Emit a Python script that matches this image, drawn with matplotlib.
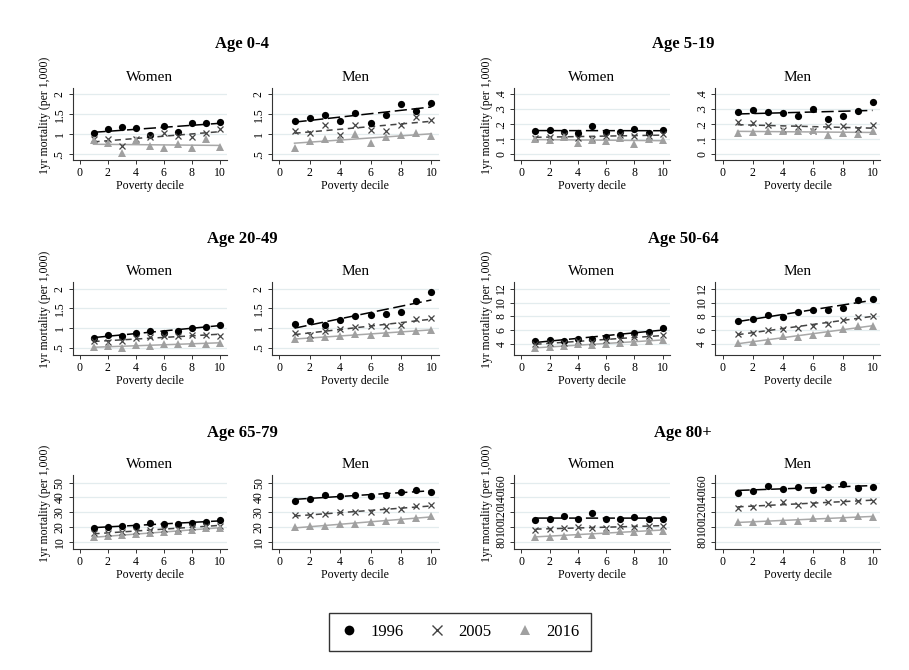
import numpy as np
import matplotlib
matplotlib.use("Agg")
import matplotlib.pyplot as plt
from matplotlib.lines import Line2D

plt.rcParams['font.family'] = ['Liberation Serif', 'DejaVu Serif']

deciles = [1, 2, 3, 4, 5, 6, 7, 8, 9, 10]
years = ["1996", "2005", "2016"]
age_groups = ["Age 0-4", "Age 5-19", "Age 20-49", "Age 50-64", "Age 65-79", "Age 80+"]
sexes = ["Women", "Men"]

# Age 0-4
w04_1996 = [1.02, 1.13, 1.18, 1.16, 0.97, 1.21, 1.05, 1.29, 1.29, 1.30]
w04_2005 = [0.89, 0.88, 0.71, 0.88, 0.94, 1.02, 0.95, 0.94, 1.03, 1.13]
w04_2016 = [0.85, 0.79, 0.53, 0.85, 0.71, 0.65, 0.76, 0.67, 0.88, 0.68]
m04_1996 = [1.33, 1.40, 1.47, 1.32, 1.52, 1.28, 1.48, 1.74, 1.58, 1.78]
m04_2005 = [1.08, 1.03, 1.22, 0.98, 1.23, 1.11, 1.09, 1.22, 1.42, 1.36]
m04_2016 = [0.67, 0.84, 0.88, 0.87, 1.01, 0.79, 0.94, 0.97, 1.03, 0.95]
# Age 5-19
w519_1996 = [0.156, 0.164, 0.147, 0.142, 0.187, 0.151, 0.151, 0.169, 0.142, 0.160]
w519_2005 = [0.111, 0.118, 0.129, 0.111, 0.104, 0.122, 0.129, 0.120, 0.120, 0.136]
w519_2016 = [0.100, 0.096, 0.113, 0.078, 0.093, 0.087, 0.107, 0.067, 0.102, 0.096]
m519_1996 = [0.278, 0.291, 0.278, 0.271, 0.253, 0.298, 0.233, 0.253, 0.289, 0.349]
m519_2005 = [0.213, 0.207, 0.196, 0.162, 0.178, 0.153, 0.189, 0.187, 0.171, 0.193]
m519_2016 = [0.144, 0.151, 0.156, 0.156, 0.156, 0.158, 0.129, 0.144, 0.136, 0.156]
# Age 20-49
w2049_1996 = [0.75, 0.81, 0.79, 0.88, 0.92, 0.88, 0.92, 1.01, 1.03, 1.07]
w2049_2005 = [0.66, 0.63, 0.67, 0.74, 0.76, 0.80, 0.79, 0.81, 0.81, 0.80]
w2049_2016 = [0.51, 0.53, 0.50, 0.56, 0.55, 0.58, 0.58, 0.62, 0.60, 0.61]
m2049_1996 = [1.09, 1.17, 1.08, 1.19, 1.31, 1.33, 1.35, 1.41, 1.69, 1.91]
m2049_2005 = [0.86, 0.83, 0.92, 0.98, 1.03, 1.05, 1.05, 1.07, 1.22, 1.25]
m2049_2016 = [0.71, 0.75, 0.77, 0.80, 0.84, 0.81, 0.87, 0.92, 0.92, 0.95]
# Age 50-64
w5064_1996 = [4.48, 4.67, 4.43, 4.81, 4.77, 5.10, 5.39, 5.67, 5.82, 6.30]
w5064_2005 = [4.05, 4.24, 4.24, 4.43, 4.38, 4.57, 4.81, 5.00, 5.20, 5.29]
w5064_2016 = [3.43, 3.57, 3.76, 4.00, 3.95, 4.10, 4.24, 4.33, 4.50, 4.60]
m5064_1996 = [7.35, 7.68, 8.16, 7.97, 8.59, 8.98, 8.98, 9.26, 10.32, 10.56]
m5064_2005 = [5.53, 5.67, 6.06, 6.15, 6.39, 6.68, 6.92, 7.49, 7.92, 8.07]
m5064_2016 = [4.19, 4.33, 4.53, 5.20, 5.10, 5.29, 5.58, 6.15, 6.58, 6.68]
# Age 65-79
w6579_1996 = [19.4, 20.1, 21.0, 20.8, 22.4, 21.7, 21.9, 22.8, 23.7, 24.6]
w6579_2005 = [15.6, 15.8, 16.7, 17.2, 17.9, 18.5, 18.8, 20.1, 20.6, 21.0]
w6579_2016 = [13.4, 13.6, 14.3, 15.2, 15.8, 16.5, 17.0, 18.1, 19.2, 19.4]
m6579_1996 = [37.6, 39.2, 41.7, 40.8, 41.9, 41.2, 41.5, 43.7, 44.8, 43.9]
m6579_2005 = [27.8, 28.2, 29.1, 30.2, 30.2, 30.2, 31.3, 32.2, 34.3, 34.9]
m6579_2016 = [19.8, 20.6, 20.8, 21.7, 22.1, 23.3, 24.2, 24.8, 26.2, 27.5]
# Age 80+
w80_1996 = [108.8, 111.0, 115.1, 110.1, 118.2, 111.0, 110.6, 113.3, 110.6, 110.6]
w80_2005 = [96.2, 97.5, 98.4, 100.2, 98.4, 98.9, 101.6, 99.3, 101.6, 101.6]
w80_2016 = [86.3, 86.7, 88.1, 90.3, 89.4, 94.4, 94.8, 93.0, 93.9, 94.8]
m80_1996 = [145.6, 149.2, 155.9, 151.0, 154.6, 150.6, 154.6, 158.7, 152.4, 154.2]
m80_2005 = [125.8, 126.3, 130.8, 134.4, 129.4, 131.7, 133.9, 133.5, 135.3, 135.7]
m80_2016 = [106.5, 107.0, 108.3, 107.9, 107.9, 111.9, 111.9, 111.5, 114.6, 113.7]

# y ticks per age group
yticks_04 = [0.5, 1, 1.5, 2]
ylabels_04 = [".5", "1", "1.5", "2"]
yticks_519 = [0, 0.1, 0.2, 0.3, 0.4]
ylabels_519 = ["0", ".1", ".2", ".3", ".4"]
yticks_2049 = [0.5, 1, 1.5, 2]
ylabels_2049 = [".5", "1", "1.5", "2"]
yticks_5064 = [4, 6, 8, 10, 12]
ylabels_5064 = ["4", "6", "8", "10", "12"]
yticks_6579 = [10, 20, 30, 40, 50]
ylabels_6579 = ["10", "20", "30", "40", "50"]
yticks_80 = [80, 100, 120, 140, 160]
ylabels_80 = ["80", "100", "120", "140", "160"]
xticks = [0, 2, 4, 6, 8, 10]

groups = [
    ("Age 0-4", [w04_1996, w04_2005, w04_2016], [m04_1996, m04_2005, m04_2016], yticks_04, ylabels_04, (0.36, 2.15)),
    ("Age 5-19", [w519_1996, w519_2005, w519_2016], [m519_1996, m519_2005, m519_2016], yticks_519, ylabels_519, (-0.038, 0.44)),
    ("Age 20-49", [w2049_1996, w2049_2005, w2049_2016], [m2049_1996, m2049_2005, m2049_2016], yticks_2049, ylabels_2049, (0.31, 2.17)),
    ("Age 50-64", [w5064_1996, w5064_2005, w5064_2016], [m5064_1996, m5064_2005, m5064_2016], yticks_5064, ylabels_5064, (2.45, 12.95)),
    ("Age 65-79", [w6579_1996, w6579_2005, w6579_2016], [m6579_1996, m6579_2005, m6579_2016], yticks_6579, ylabels_6579, (5.1, 55.2)),
    ("Age 80+", [w80_1996, w80_2005, w80_2016], [m80_1996, m80_2005, m80_2016], yticks_80, ylabels_80, (70.1, 170.3)),
]

W, H = 909, 670
fig = plt.figure(figsize=(W / 100, H / 100), dpi=100)
fig.patch.set_facecolor('white')

# styles
markers = ['o', 'x', '^']
mcolors = ['#000000', '#444444', '#a0a0a0']
msizes = [5.2, 4.5, 5.2]
lcolors = ['#000000', '#444444', '#a8a8a8']
ldash = [(0, (8, 3)), (0, (4, 3)), '-']
grid_color = '#e3ecee'

col_x = [[(72.5, 226.5), (271.7, 439.0)], [(514.3, 669.7), (715.0, 880.0)]]
row_y = [(88, 160), (282, 355), (475, 549)]
title_y = [44, 239, 433]
title_x = [242, 683]


def add_axes(l, r, t, b):
    return fig.add_axes([l / W, 1 - b / H, (r - l) / W, (b - t) / H])


for gi, (gname, wdata, mdata, yt, yl, ylim) in enumerate(groups):
    row = gi // 2
    col = gi % 2
    fig.text(title_x[col] / W, 1 - title_y[row] / H, gname, ha='center', va='center',
             fontsize=12, fontweight='bold')
    for si, (sex, data) in enumerate(zip(sexes, [wdata, mdata])):
        l, r = col_x[col][si]
        t, b = row_y[row]
        ax = add_axes(l, r, t, b)
        ax.set_xlim(-0.5, 10.5)
        ax.set_ylim(*ylim)
        for k in range(3):
            y = np.array(data[k])
            x = np.array(deciles)
            coef = np.polyfit(x, y, 1)
            ax.plot(x, np.polyval(coef, x), color=lcolors[k], linestyle=ldash[k],
                    linewidth=1.1, zorder=2)
        for k in range(3):
            if markers[k] == 'x':
                ax.plot(deciles, data[k], linestyle='none', marker='x', color=mcolors[k],
                        markersize=msizes[k], markeredgewidth=0.9, zorder=3)
            else:
                ax.plot(deciles, data[k], linestyle='none', marker=markers[k], color=mcolors[k],
                        markersize=msizes[k], markeredgewidth=0, zorder=3)
        ax.set_yticks(yt)
        ax.set_yticklabels(yl, rotation=90, va='center')
        ax.set_xticks(xticks)
        ax.tick_params(axis='both', labelsize=8.5, length=3, width=0.7, pad=2, color='#333333')
        for y0 in yt:
            ax.axhline(y0, color=grid_color, linewidth=0.9, zorder=0)
        for sp in ['top', 'right']:
            ax.spines[sp].set_visible(False)
        for sp in ['left', 'bottom']:
            ax.spines[sp].set_linewidth(0.8)
            ax.spines[sp].set_color('#333333')
        ax.set_title(sex, fontsize=11, pad=5)
        ax.set_xlabel("Poverty decile", fontsize=8.5, labelpad=1)
        if si == 0:
            ax.set_ylabel("1yr mortality (per 1,000)", fontsize=8.5, labelpad=2)
            ax.yaxis.set_label_coords(-0.14, 0.62)

handles = [
    Line2D([], [], linestyle='none', marker='o', color='#000000', markersize=7, markeredgewidth=0),
    Line2D([], [], linestyle='none', marker='x', color='#444444', markersize=6.5, markeredgewidth=1.0),
    Line2D([], [], linestyle='none', marker='^', color='#a0a0a0', markersize=7, markeredgewidth=0),
]
leg = fig.legend(handles, years, loc='center', bbox_to_anchor=(460 / W, 1 - 632 / H), ncol=3,
                 fontsize=12, frameon=True, fancybox=False, edgecolor='black',
                 handletextpad=0.8, columnspacing=1.5, borderpad=0.65, handlelength=1.0,
                 borderaxespad=0)
leg.get_frame().set_linewidth(1.0)

fig.savefig("out.png", dpi=100, facecolor='white')
